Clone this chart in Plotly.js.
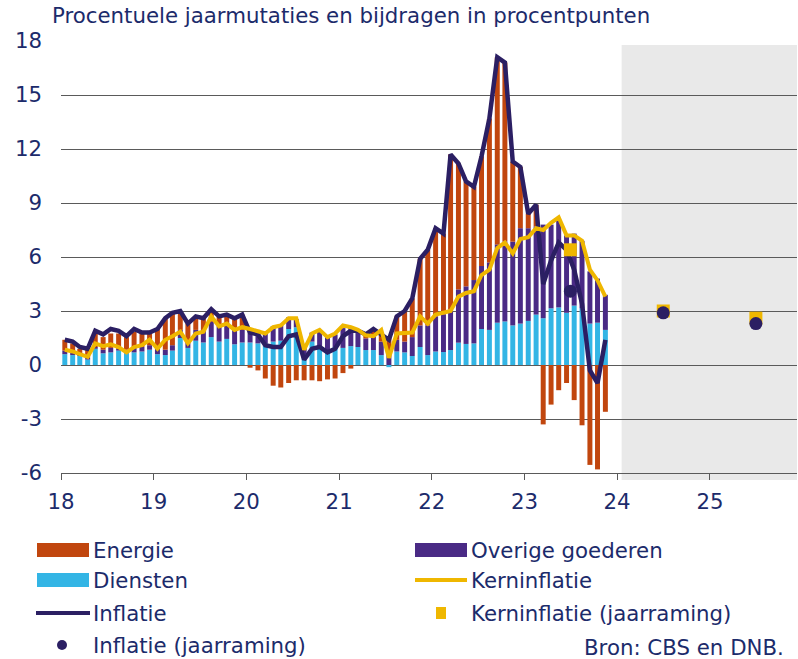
<!DOCTYPE html>
<html>
<head>
<meta charset="utf-8">
<script src="https://cdn.plot.ly/plotly-3.0.1.min.js"></script>
<style>
  html, body { margin: 0; padding: 0; background: #ffffff; }
  #chart { width: 798px; height: 659px; }
</style>
</head>
<body>
<div id="chart"></div>
<script>
// ---------------- DATA ----------------
const startYear = 2018;
const nMonths = 71; // Jan 2018 .. Nov 2023
const months = [];
for (let i = 0; i < nMonths; i++) {
  const y = startYear + Math.floor(i / 12);
  const m = (i % 12) + 1;
  months.push(y + '-' + String(m).padStart(2, '0') + '-16');
}

// Bijdrage diensten (procentpunten)
const diensten = [
  0.6, 0.55, 0.5, 0.3, 0.9, 0.65, 0.7, 0.8, 0.65, 0.7, 0.75, 0.85,
  0.6, 0.55, 0.8, 1.5, 0.95, 1.35, 1.25, 1.55, 1.3, 1.45, 1.15, 1.25,
  1.25, 1.2, 1.2, 1.3, 1.35, 2.0, 2.1, 0.6, 1.3, 1.05, 0.7, 1.0,
  0.95, 1.05, 1.0, 0.83, 0.83, 0.55, -0.12, 0.75, 0.7, 0.5, 1.0, 0.55,
  0.75, 0.72, 0.83, 1.24, 1.17, 1.2, 2.0, 1.95, 2.35, 2.42, 2.2, 2.3,
  2.45, 2.8, 2.6, 3.15, 3.2, 2.9, 3.3, 3.15, 2.3, 2.35, 1.95
];
// Bijdrage overige goederen
const overigeGoederen = [
  0.2, 0.15, 0.1, 0.1, 0.1, 0.2, 0.25, 0.1, 0.2, 0.25, 0.25, 0.25,
  0.3, 0.3, 0.3, 0.45, 0.35, 0.6, 0.7, 0.85, 0.85, 0.8, 0.9, 0.7,
  0.7, 0.75, 0.65, 0.85, 0.9, 0.65, 0.45, 0.55, 0.5, 0.8, 0.85, 0.7,
  1.1, 1.05, 0.85, 0.65, 0.75, 0.75, 0.6, 0.65, 0.6, 1.05, 1.2, 1.65,
  1.95, 2.1, 2.25, 2.96, 3.2, 3.52, 3.5, 3.75, 4.35, 4.45, 4.65, 5.3,
  5.15, 4.9, 5.2, 4.65, 4.8, 4.3, 4.0, 3.75, 2.9, 2.45, 1.95
];
// Bijdrage energie
const energie = [
  0.6, 0.5, 0.3, 0.45, 0.8, 0.7, 0.8, 0.85, 0.7, 0.9, 0.8, 0.8,
  1.1, 1.75, 1.8, 1.05, 1.0, 0.75, 0.65, 0.7, 0.55, 0.55, 0.55, 0.85,
  -0.15, -0.3, -0.75, -1.15, -1.25, -1.0, -0.85, -0.85, -0.85, -0.9, -0.8, -0.75,
  -0.45, -0.2, 0.05, 0.22, 0.42, 0.4, 0.92, 1.3, 1.7, 2.15, 3.7, 4.2,
  4.9, 4.48, 8.62, 7.0, 5.83, 5.18, 6.1, 8.0, 10.4, 9.93, 4.45, 3.4,
  0.8, 1.2, -3.3, -2.2, -1.4, -1.0, -1.95, -3.35, -5.55, -5.8, -2.6
];
// Inflatie (HICP, % j-o-j)
const inflatie = [
  1.4, 1.3, 1.0, 0.9, 1.9, 1.7, 2.0, 1.9, 1.6, 2.0, 1.8, 1.8,
  2.0, 2.6, 2.9, 3.0, 2.3, 2.7, 2.6, 3.1, 2.7, 2.8, 2.6, 2.8,
  1.8, 1.7, 1.1, 1.0, 1.0, 1.6, 1.7, 0.3, 0.9, 1.0, 0.7, 0.9,
  1.6, 1.9, 1.9, 1.7, 2.0, 1.7, 1.4, 2.7, 3.0, 3.7, 5.9, 6.4,
  7.6, 7.3, 11.7, 11.2, 10.2, 9.9, 11.6, 13.7, 17.1, 16.8, 11.3, 11.0,
  8.4, 8.9, 4.5, 5.8, 6.8, 6.4, 5.3, 3.4, -0.3, -1.0, 1.4
];
// Kerninflatie
const kerninflatie = [
  0.85, 0.75, 0.6, 0.45, 1.2, 1.05, 1.15, 1.0, 0.7, 1.0, 1.1, 1.4,
  0.9, 1.4, 1.6, 1.85, 1.2, 1.75, 1.85, 2.7, 2.15, 2.3, 1.95, 2.1,
  2.0, 1.85, 1.75, 2.1, 2.2, 2.6, 2.6, 0.85, 1.75, 1.95, 1.55, 1.75,
  2.2, 2.1, 1.95, 1.65, 1.6, 1.95, 0.4, 1.75, 1.75, 1.8, 2.7, 2.3,
  2.8, 2.9, 3.0, 3.8, 4.0, 4.1, 5.0, 5.3, 6.5, 6.8, 6.2, 7.0,
  7.1, 7.6, 7.5, 7.9, 8.2, 7.2, 7.2, 6.9, 5.3, 4.7, 3.8
];
// Jaarramingen
const ramingJaren = ['2023-07-01', '2024-07-01', '2025-07-01'];
const inflatieRaming = [4.1, 2.9, 2.3];
const kernRaming = [6.4, 3.0, 2.6];

// Axes
const xTickVals = ['2018-01-01','2019-01-01','2020-01-01','2021-01-01','2022-01-01','2023-01-01','2024-01-01','2025-01-01'];
const xTickText = ['18','19','20','21','22','23','24','25'];
const yTickVals = [-6, -3, 0, 3, 6, 9, 12, 15, 18];
const yTickText = ['-6', '-3', '0', '3', '6', '9', '12', '15', '18'];

// ---------------- STYLE ----------------
const C = {
  energie: '#c1460e',
  overige: '#4a2a85',
  diensten: '#33b5e5',
  kern: '#efb700',
  inflatie: '#2b1f63',
  text: '#1c2b6b',
  grid: '#5a5a5a',
  shade: '#e9e9e9'
};
const FONT = 'DejaVu Sans, Verdana, sans-serif';
const FS = 21.3;

const W = 798, H = 659;
const M = { l: 61, r: 1, t: 41, b: 186 };
const PW = W - M.l - M.r, PH = H - M.t - M.b;
const px = x => (x - M.l) / PW;
const py = y => (H - M.b - y) / PH;

const traces = [
  { type: 'bar', x: months, y: diensten, name: 'Diensten', marker: { color: C.diensten }, showlegend: false, hoverinfo: 'skip' },
  { type: 'bar', x: months, y: overigeGoederen, name: 'Overige goederen', marker: { color: C.overige }, showlegend: false, hoverinfo: 'skip' },
  { type: 'bar', x: months, y: energie, name: 'Energie', marker: { color: C.energie }, showlegend: false, hoverinfo: 'skip' },
  { type: 'scatter', mode: 'lines', x: months, y: inflatie, name: 'Inflatie', line: { color: C.inflatie, width: 4.5 }, showlegend: false },
  { type: 'scatter', mode: 'lines', x: months, y: kerninflatie, name: 'Kerninflatie', line: { color: C.kern, width: 4 }, showlegend: false },
  { type: 'scatter', mode: 'markers', x: ramingJaren, y: kernRaming, name: 'Kerninflatie (jaarraming)', marker: { color: C.kern, symbol: 'square', size: 13 }, showlegend: false },
  { type: 'scatter', mode: 'markers', x: ramingJaren, y: inflatieRaming, name: 'Inflatie (jaarraming)', marker: { color: C.inflatie, symbol: 'circle', size: 13 }, showlegend: false }
];

// Manual legend (paper coordinates from pixel positions)
const shapes = [
  { type: 'rect', xref: 'x', yref: 'paper', x0: '2024-01-19', x1: '2025-12-31', y0: py(480), y1: py(45), fillcolor: C.shade, line: { width: 0 }, layer: 'below' },
  { type: 'rect', xref: 'paper', yref: 'paper', x0: px(37), x1: px(89), y0: py(557), y1: py(543), fillcolor: C.energie, line: { width: 0 } },
  { type: 'rect', xref: 'paper', yref: 'paper', x0: px(415), x1: px(467), y0: py(557), y1: py(543), fillcolor: C.overige, line: { width: 0 } },
  { type: 'rect', xref: 'paper', yref: 'paper', x0: px(37), x1: px(89), y0: py(587), y1: py(573), fillcolor: C.diensten, line: { width: 0 } },
  { type: 'line', xref: 'paper', yref: 'paper', x0: px(415), x1: px(467), y0: py(580), y1: py(580), line: { color: C.kern, width: 4 } },
  { type: 'line', xref: 'paper', yref: 'paper', x0: px(36), x1: px(90), y0: py(613), y1: py(613), line: { color: C.inflatie, width: 4 } },
  { type: 'rect', xref: 'paper', yref: 'paper', x0: px(436), x1: px(446), y0: py(619), y1: py(607), fillcolor: C.kern, line: { width: 0 } },
  { type: 'circle', xref: 'paper', yref: 'paper', x0: px(57), x1: px(67), y0: py(650), y1: py(640), fillcolor: C.inflatie, line: { width: 0 } }
];

const legText = (t, x, y, anchor) => ({
  text: t, xref: 'paper', yref: 'paper', x: px(x), y: py(y), xanchor: anchor || 'left', yanchor: 'middle',
  showarrow: false, font: { family: FONT, size: FS, color: C.text }
});
const annotations = [
  legText('Energie', 91, 550),
  legText('Overige goederen', 469, 550),
  legText('Diensten', 91, 580),
  legText('Kerninflatie', 469, 580),
  legText('Inflatie', 91, 613),
  legText('Kerninflatie (jaarraming)', 469, 613),
  legText('Inflatie (jaarraming)', 91, 645),
  legText('Bron: CBS en DNB.', 786, 647, 'right')
];

const layout = {
  width: W, height: H,
  margin: M,
  paper_bgcolor: '#ffffff', plot_bgcolor: '#ffffff',
  font: { family: FONT, size: FS, color: C.text },
  title: { text: 'Procentuele jaarmutaties en bijdragen in procentpunten', x: 52 / W, xanchor: 'left', y: 1 - 16 / H, yanchor: 'middle', font: { family: FONT, size: FS, color: C.text } },
  barmode: 'relative',
  bargap: 0.3,
  showlegend: false,
  xaxis: {
    type: 'date',
    range: ['2018-01-01', '2025-12-10'],
    tickvals: xTickVals, ticktext: xTickText,
    ticks: 'outside', ticklen: 6, tickcolor: C.grid, tickwidth: 1,
    showline: true, linecolor: C.grid, linewidth: 1,
    showgrid: false, zeroline: false,
    tickfont: { family: FONT, size: FS, color: C.text },
    ticklabelstandoff: 3
  },
  yaxis: {
    range: [-6, 18],
    tickvals: yTickVals, ticktext: yTickText,
    showgrid: true, gridcolor: C.grid, gridwidth: 1,
    zeroline: false, showline: false, ticks: '',
    tickfont: { family: FONT, size: FS, color: C.text },
    ticklabelstandoff: 18
  },
  shapes: shapes,
  annotations: annotations
};

Plotly.newPlot('chart', traces, layout, { staticPlot: true, displayModeBar: false });
</script>
</body>
</html>
